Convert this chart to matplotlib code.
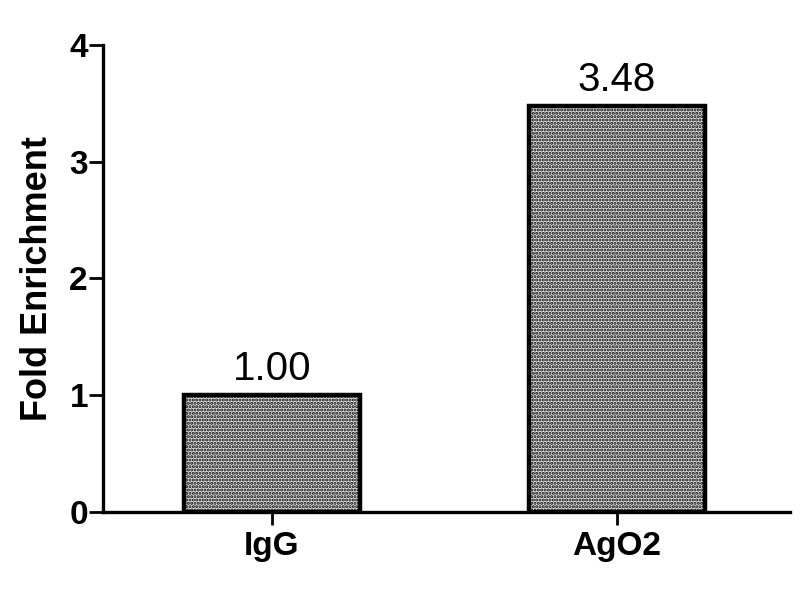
import matplotlib
matplotlib.use("Agg")
import matplotlib.pyplot as plt

# ─── Datos ───────────────────────────────────────────────
groups = ["IgG", "AgO2"]
fold = [1.00, 3.48]
value_labels = ["1.00", "3.48"]
yticks = [0, 1, 2, 3, 4]

plt.rcParams["font.family"] = ["Liberation Sans", "DejaVu Sans"]
plt.rcParams["hatch.color"] = "#1a1a1a"
plt.rcParams["hatch.linewidth"] = 1.5

fig = plt.figure(figsize=(8, 6), dpi=100)
ax = fig.add_axes([0.129, 0.147, 0.8585, 0.778])

x = range(len(groups))
bars = ax.bar(x, fold, width=0.51, facecolor="#e4e4e4", edgecolor="black",
              linewidth=3.2, hatch=".....", zorder=2)

for xi, v, lab in zip(x, fold, value_labels):
    ax.text(xi, v + 0.06, lab, ha="center", va="bottom", fontsize=29)

ax.set_xlim(-0.49, 1.503)
ax.set_ylim(0, 4)
ax.set_xticks(list(x))
ax.set_xticklabels(groups, fontsize=24, fontweight="bold")
ax.set_yticks(yticks)
ax.set_yticklabels([str(t) for t in yticks], fontsize=24, fontweight="bold")
ax.set_ylabel("Fold Enrichment", fontsize=26, fontweight="bold", labelpad=10)

for s in ["top", "right"]:
    ax.spines[s].set_visible(False)
for s in ["left", "bottom"]:
    ax.spines[s].set_linewidth(2.4)
ax.tick_params(axis="y", direction="out", length=10, width=2, pad=1)
ax.tick_params(axis="x", direction="out", length=9, width=2, pad=5)

fig.savefig("out.png", dpi=100)
